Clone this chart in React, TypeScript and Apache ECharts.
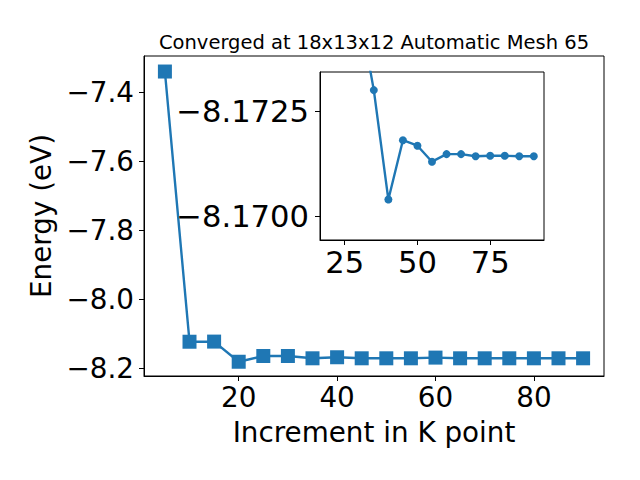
import React, { useEffect, useRef } from "react";
import * as echarts from "echarts";

const titleText = "Converged at 18x13x12 Automatic Mesh 65";
const xLabel = "Increment in K point";
const yLabel = "Energy (eV)";

const kPoints = [5, 10, 15, 20, 25, 30, 35, 40, 45, 50, 55, 60, 65, 70, 75, 80, 85, 90];
const energy = [
  -7.340, -8.123, -8.1226, -8.181, -8.1643, -8.1643, -8.171, -8.168, -8.171,
  -8.171, -8.171, -8.169, -8.171, -8.171, -8.171, -8.171, -8.171, -8.171,
];

const insetK = [30, 35, 40, 45, 50, 55, 60, 65, 70, 75, 80, 85, 90];
const insetEnergy = [
  -8.1749, -8.1730, -8.1704, -8.17181, -8.17168, -8.1713, -8.17148, -8.17148,
  -8.17143, -8.17144, -8.17144, -8.17143, -8.17143,
];

const mainXTicks = [20, 40, 60, 80];
const mainYTicks = [-8.2, -8.0, -7.8, -7.6, -7.4];
const insetXTicks = [25, 50, 75];
const insetYTicks = [-8.1725, -8.17];

const minus = (v: number, d: number) => (v < 0 ? "\u2212" : "") + Math.abs(v).toFixed(d);

export default function App() {
  const ref = useRef<HTMLDivElement>(null);
  useEffect(() => {
    if (!ref.current) return;
    const chart = echarts.init(ref.current, null, { renderer: "svg" });
    const font = "DejaVu Sans";
    const color = "#1f77b4";
    const mainFs = 27.8;
    const insetFs = 30.6;
    const axisCommon = {
      axisLine: { show: true, onZero: false, lineStyle: { color: "#000", width: 1 } },
      splitLine: { show: false },
    };
    chart.setOption({
      animation: false,
      backgroundColor: "#fff",
      title: {
        text: titleText,
        left: 369,
        textAlign: "center",
        top: 27,
        textStyle: { fontFamily: font, fontSize: 19.5, fontWeight: "normal", color: "#000" },
      },
      grid: [
        { left: 144, top: 56, right: 36, bottom: 104, show: true, borderColor: "#000", borderWidth: 1, backgroundColor: "#fff" },
        { left: 320, top: 72, right: 96, bottom: 240, show: true, borderColor: "#000", borderWidth: 1, backgroundColor: "#fff", z: 5 },
      ],
      xAxis: [
        {
          ...axisCommon,
          type: "value",
          gridIndex: 0,
          min: 0.75,
          max: 94.25,
          name: xLabel,
          nameLocation: "middle",
          nameGap: 42,
          nameTextStyle: { fontFamily: font, fontSize: mainFs, color: "#000" },
          axisTick: { show: true, inside: false, length: 5, lineStyle: { color: "#000" }, customValues: mainXTicks },
          axisLabel: { fontFamily: font, fontSize: mainFs, color: "#000", margin: 7, customValues: mainXTicks, formatter: (v: number) => String(v) },
        },
        {
          ...axisCommon,
          type: "value",
          gridIndex: 1,
          min: 16.5,
          max: 93.5,
          axisTick: { show: true, inside: false, length: 5, lineStyle: { color: "#000" }, customValues: insetXTicks },
          axisLabel: { fontFamily: font, fontSize: insetFs, color: "#000", margin: 7, customValues: insetXTicks, formatter: (v: number) => String(v) },
          z: 5,
        },
      ],
      yAxis: [
        {
          ...axisCommon,
          type: "value",
          gridIndex: 0,
          min: -8.2223,
          max: -7.295,
          name: yLabel,
          nameLocation: "middle",
          nameGap: 84,
          nameTextStyle: { fontFamily: font, fontSize: mainFs, color: "#000" },
          axisTick: { show: true, inside: false, length: 5, lineStyle: { color: "#000" }, customValues: mainYTicks },
          axisLabel: { fontFamily: font, fontSize: mainFs, color: "#000", margin: 10, customValues: mainYTicks, formatter: (v: number) => minus(v, 1) },
        },
        {
          ...axisCommon,
          type: "value",
          gridIndex: 1,
          inverse: true,
          min: -8.17343,
          max: -8.16944,
          axisTick: { show: true, inside: false, length: 5, lineStyle: { color: "#000" }, customValues: insetYTicks },
          axisLabel: { fontFamily: font, fontSize: insetFs, color: "#000", margin: 11, customValues: insetYTicks, formatter: (v: number) => minus(v, 4) },
          z: 5,
        },
      ],
      series: [
        {
          type: "line",
          xAxisIndex: 0,
          yAxisIndex: 0,
          data: kPoints.map((k, i) => [k, energy[i]]),
          symbol: "rect",
          symbolSize: 14,
          lineStyle: { color, width: 2.4 },
          itemStyle: { color },
          z: 2,
        },
        {
          type: "line",
          xAxisIndex: 1,
          yAxisIndex: 1,
          data: insetK.map((k, i) => [k, insetEnergy[i]]),
          symbol: "circle",
          symbolSize: 8,
          lineStyle: { color, width: 2.4 },
          itemStyle: { color },
          clip: true,
          z: 6,
        },
      ],
    });
    return () => chart.dispose();
  }, []);
  return <div ref={ref} style={{ width: 640, height: 480, position: "absolute", left: 0, top: 0 }} />;
}
